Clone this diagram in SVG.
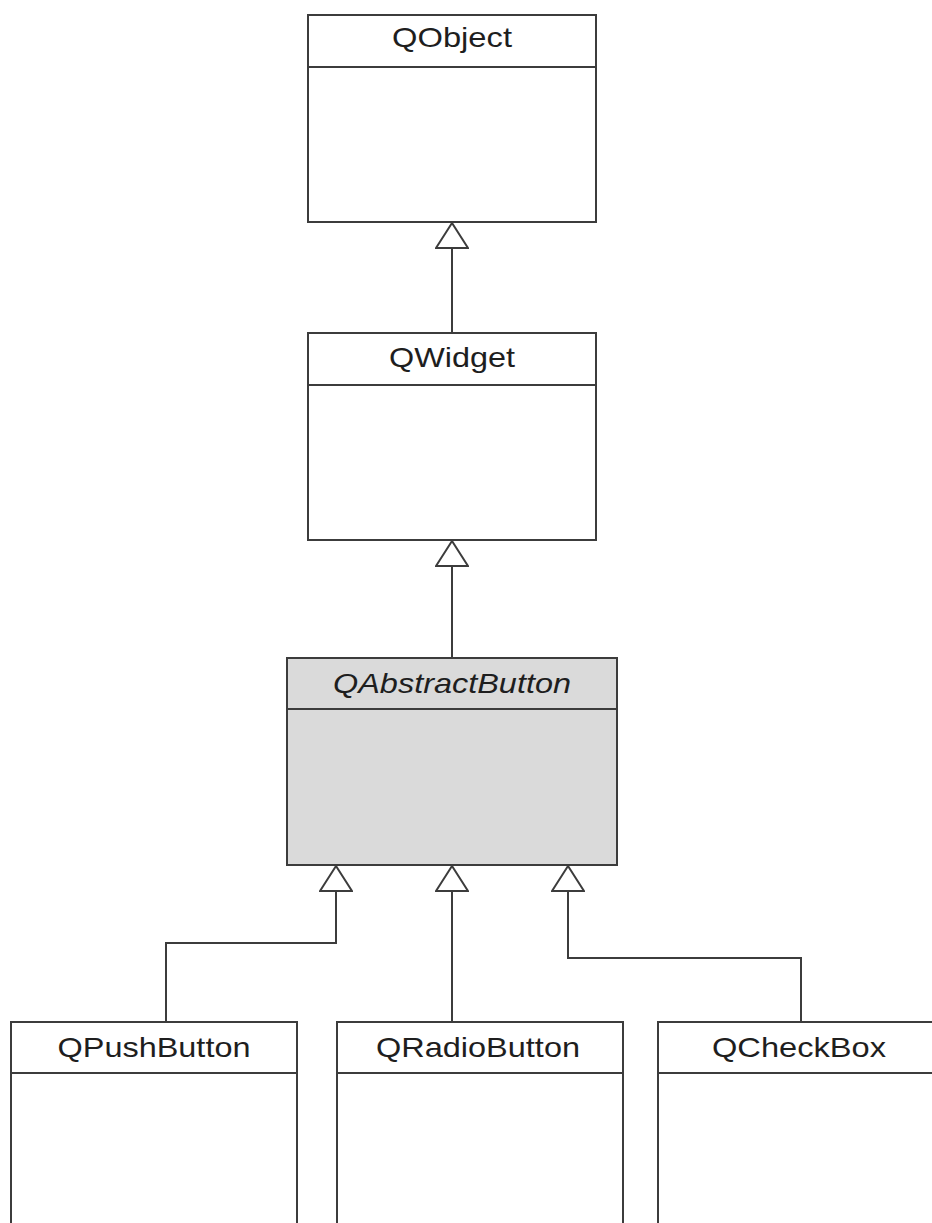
<svg xmlns="http://www.w3.org/2000/svg" width="932" height="1223" viewBox="0 0 932 1223">
  <style>
    .box { fill: #ffffff; stroke: #3c3c3c; stroke-width: 2; }
    .abstract { fill: #dadada; }
    .div { stroke: #3c3c3c; stroke-width: 2; }
    .name { font-family: "Liberation Sans", Arial, sans-serif; font-size: 28px; fill: #1e1e1e; text-anchor: middle; }
    .ital { font-style: italic; }
    .edge { fill: none; stroke: #3c3c3c; stroke-width: 2; marker-end: url(#gen); }
  </style>
  <defs>
    <marker id="gen" markerUnits="userSpaceOnUse" viewBox="-1 -1 27 34" markerWidth="27" markerHeight="34" refX="25" refY="16" orient="auto">
      <path d="M25,16 L0,0 L0,32 Z" fill="#ffffff" stroke="#3c3c3c" stroke-width="2" stroke-linejoin="miter"/>
    </marker>
  </defs>
  <rect width="932" height="1223" fill="#ffffff"/>

  <g id="connectors">
    <path class="edge" d="M452,333 L452,223"/>
    <path class="edge" d="M452,657 L452,541"/>
    <path class="edge" d="M166,1022 L166,943 L336,943 L336,866"/>
    <path class="edge" d="M452,1022 L452,866"/>
    <path class="edge" d="M801,1022 L801,958 L568,958 L568,866"/>
  </g>

  <g id="QObject">
    <rect class="box" x="308" y="15" width="288" height="207"/>
    <line class="div" x1="308" y1="67" x2="596" y2="67"/>
    <text class="name" x="452" y="47" textLength="120" lengthAdjust="spacingAndGlyphs">QObject</text>
  </g>

  <g id="QWidget">
    <rect class="box" x="308" y="333" width="288" height="207"/>
    <line class="div" x1="308" y1="385" x2="596" y2="385"/>
    <text class="name" x="452" y="367" textLength="126" lengthAdjust="spacingAndGlyphs">QWidget</text>
  </g>

  <g id="QAbstractButton">
    <rect class="box abstract" x="287" y="658" width="330" height="207"/>
    <line class="div" x1="287" y1="709" x2="617" y2="709"/>
    <text class="name ital" x="452" y="693" textLength="238" lengthAdjust="spacingAndGlyphs">QAbstractButton</text>
  </g>

  <g id="QPushButton">
    <rect class="box" x="11" y="1022" width="286" height="230"/>
    <line class="div" x1="11" y1="1073" x2="297" y2="1073"/>
    <text class="name" x="154" y="1057" textLength="193" lengthAdjust="spacingAndGlyphs">QPushButton</text>
  </g>

  <g id="QRadioButton">
    <rect class="box" x="337" y="1022" width="286" height="230"/>
    <line class="div" x1="337" y1="1073" x2="623" y2="1073"/>
    <text class="name" x="478" y="1057" textLength="204" lengthAdjust="spacingAndGlyphs">QRadioButton</text>
  </g>

  <g id="QCheckBox">
    <rect class="box" x="658" y="1022" width="284" height="230"/>
    <line class="div" x1="658" y1="1073" x2="942" y2="1073"/>
    <text class="name" x="799" y="1057" textLength="174" lengthAdjust="spacingAndGlyphs">QCheckBox</text>
  </g>
</svg>
